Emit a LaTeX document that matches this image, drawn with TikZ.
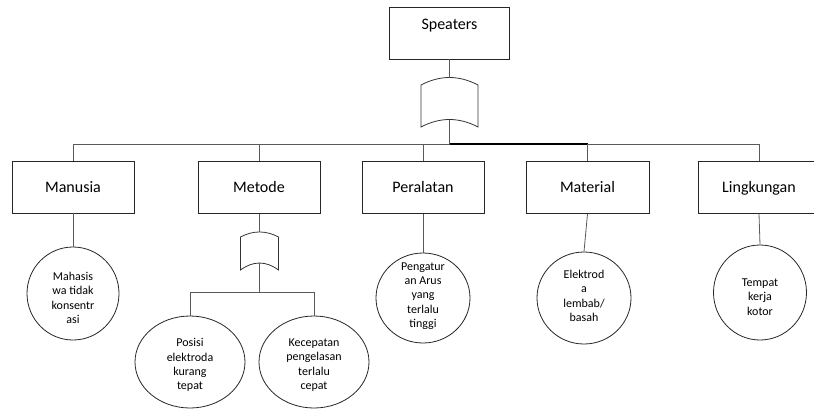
\documentclass[tikz,border=0pt]{standalone}
\usepackage{fontspec}
\setmainfont{Carlito}
\usetikzlibrary{shapes.geometric}
\begin{document}
\begin{tikzpicture}[x=1pt,y=-1pt,
  catbox/.style={draw=black!85, line width=0.8pt, minimum width=122pt, minimum height=52pt,
    inner sep=0pt, text height=12pt, text depth=2pt, font=\fontsize{16}{19}\selectfont},
  cause/.style={draw=black!85, ellipse, line width=0.8pt, inner sep=0pt},
  causetext/.style={align=center, inner sep=0pt, font=\fontsize{12}{14.3}\selectfont},
  link/.style={draw=black!65, line width=0.8pt},
  mainlink/.style={draw=black, line width=1.1pt},
  gate/.style={draw=black!80, line width=0.8pt, fill=white}]
\useasboundingbox (0,0) rectangle (814,410);

% top event, label set high in its box
\node[catbox, minimum width=120pt, text height=2pt, text depth=10pt] (top) at (449.5,33) {Speaters};

% OR gate under the top event
\draw[gate] (421,85) .. controls (440,75) and (459,75) .. (478,85) -- (478,127)
  .. controls (459,117) and (440,117) .. (421,127) -- cycle;
\coordinate (g1in) at (449.5,77.5);
\coordinate (g1out) at (449.5,119.5);
\coordinate (j0) at (449.5,144);

% category boxes
\node[catbox] (man) at (73,187) {Manusia};
\node[catbox] (met) at (259,187.5) {Metode};
\node[catbox] (per) at (423,187.5) {Peralatan};
\node[catbox, minimum width=123pt] (mat) at (587.5,187.5) {Material};
\node[catbox] (lin) at (759,187.5) {Lingkungan};

% connectors from the top event to the categories
\draw[link] (top.south) -- (g1in);
\draw[link] (g1out) -- (j0);
\draw[link] (man.north |- j0) -- (lin.north |- j0);
\draw[mainlink] (j0) -- (mat.north |- j0);
\foreach \n in {man,met,per,mat,lin}
  \draw[link] (\n.north |- j0) -- (\n.north);

% OR gate under Metode
\draw[gate] (240.5,237) .. controls (253,230.3) and (266,230.3) .. (278.5,237) -- (278.5,270)
  .. controls (266,260.7) and (253,260.7) .. (240.5,270) -- cycle;
\coordinate (g2in) at (259.5,232);
\coordinate (g2out) at (259.5,263);
\coordinate (j2) at (259.5,292);

% basic causes: outlines
\node[cause, minimum width=92pt, minimum height=93pt] (c1) at (73,293.5) {};
\node[cause, minimum width=110pt, minimum height=92pt] (c2) at (190,362) {};
\node[cause, minimum width=110pt, minimum height=92pt] (c3) at (314,362) {};
\node[cause, minimum width=94pt, minimum height=90pt] (c4) at (423,298) {};
\node[cause, minimum width=94pt, minimum height=92pt] (c5) at (584,298) {};
\node[cause, minimum width=93pt, minimum height=95pt] (c6) at (760,292.5) {};

% basic causes: texts
\node[causetext] (t1) at (73,298) {Mahasis\\wa tidak\\konsentr\\asi};
\node[causetext] (t2) at (190,365) {Posisi\\elektroda\\kurang\\tepat};
\node[causetext] (t3) at (314,365) {Kecepatan\\pengelasan\\terlalu\\cepat};
\node[causetext] (t4) at (423,296) {Pengatur\\an Arus\\yang\\terlalu\\tinggi};
\node[causetext] (t5) at (584,296) {Elektrod\\a\\lembab/\\basah};
\node[causetext] (t6) at (760,297) {Tempat\\kerja\\kotor};

% connectors from the categories to the causes
\draw[link] (man.south) -- (c1.north);
\draw[link] (met.south -| g2in) -- (g2in);
\draw[link] (g2out) -- (j2);
\draw[link] (c2.north |- j2) -- (c3.north |- j2);
\draw[link] (c2.north |- j2) -- (c2.north);
\draw[link] (c3.north |- j2) -- (c3.north);
\draw[link] (per.south) -- (c4.north);
\draw[link] (mat.south) -- (c5.north);
\draw[link] (lin.south) -- (c6.north);
\end{tikzpicture}
\end{document}
